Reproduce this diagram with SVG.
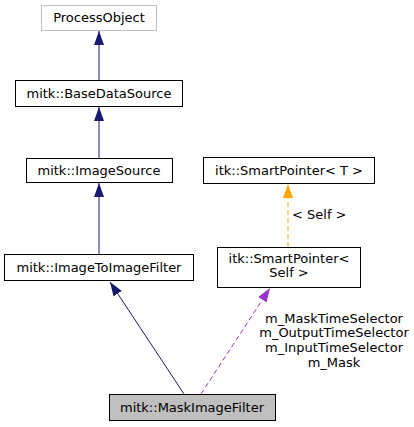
<svg xmlns="http://www.w3.org/2000/svg" width="414" height="427" viewBox="0 0 414 427">
<style>
text{font-family:"DejaVu Sans",sans-serif;font-size:13px;fill:#000}
.n{fill:#fff;stroke:#000;stroke-width:1}
.c{text-anchor:middle}
</style>
<defs>
<marker id="ab" markerWidth="14" markerHeight="10" refX="14" refY="5" orient="auto" markerUnits="userSpaceOnUse"><path d="M0,0 L14,5 L0,10 Z" fill="#191970"/></marker>
<marker id="ao" markerWidth="14" markerHeight="10" refX="14" refY="5" orient="auto" markerUnits="userSpaceOnUse"><path d="M0,0 L14,5 L0,10 Z" fill="#ffa500"/></marker>
<marker id="ap" markerWidth="14" markerHeight="10" refX="14" refY="5" orient="auto" markerUnits="userSpaceOnUse"><path d="M0,0 L14,5 L0,10 Z" fill="#9a32cd"/></marker>
</defs>
<rect width="414" height="427" fill="#fff"/>
<g id="connectors">
<line x1="99" y1="80" x2="99" y2="31" stroke="#191970" marker-end="url(#ab)"/>
<line x1="99" y1="158" x2="99" y2="107" stroke="#191970" marker-end="url(#ab)"/>
<line x1="99" y1="254" x2="99" y2="183" stroke="#191970" marker-end="url(#ab)"/>
<line x1="184" y1="394" x2="110" y2="282" stroke="#191970" marker-end="url(#ab)"/>
<line x1="288" y1="247" x2="288" y2="184" stroke="#ffa500" stroke-dasharray="5,3" marker-end="url(#ao)"/>
<text x="292" y="219">&lt; Self &gt;</text>
<line x1="201" y1="394" x2="270" y2="288" stroke="#9a32cd" stroke-dasharray="5,3" marker-end="url(#ap)"/>
<text class="c" x="334" y="323">m_MaskTimeSelector</text>
<text class="c" x="334" y="337">m_OutputTimeSelector</text>
<text class="c" x="334" y="352">m_InputTimeSelector</text>
<text class="c" x="334" y="367">m_Mask</text>
</g>
<g id="ProcessObject"><rect x="41.5" y="5.5" width="115" height="25" fill="#fff" stroke="#bfbfbf"/><text class="c" x="99" y="22">ProcessObject</text></g>
<g id="BaseDataSource"><rect class="n" x="15.5" y="80.5" width="167" height="26"/><text class="c" x="99" y="98">mitk::BaseDataSource</text></g>
<g id="ImageSource"><rect class="n" x="26.5" y="158.5" width="146" height="24"/><text class="c" x="99" y="175">mitk::ImageSource</text></g>
<g id="ImageToImageFilter"><rect class="n" x="4.5" y="254.5" width="189" height="26"/><text class="c" x="99" y="272">mitk::ImageToImageFilter</text></g>
<g id="SmartPointerT"><rect class="n" x="203.5" y="157.5" width="171" height="26"/><text class="c" x="289" y="175">itk::SmartPointer&lt; T &gt;</text></g>
<g id="SmartPointerSelf"><rect class="n" x="217.5" y="247.5" width="143" height="40"/><text class="c" x="289" y="263">itk::SmartPointer&lt;</text><text class="c" x="289" y="277">Self &gt;</text></g>
<g id="MaskImageFilter"><rect x="109.5" y="394.5" width="166" height="26" fill="#bfbfbf" stroke="#000"/><text class="c" x="192" y="412">mitk::MaskImageFilter</text></g>
</svg>
